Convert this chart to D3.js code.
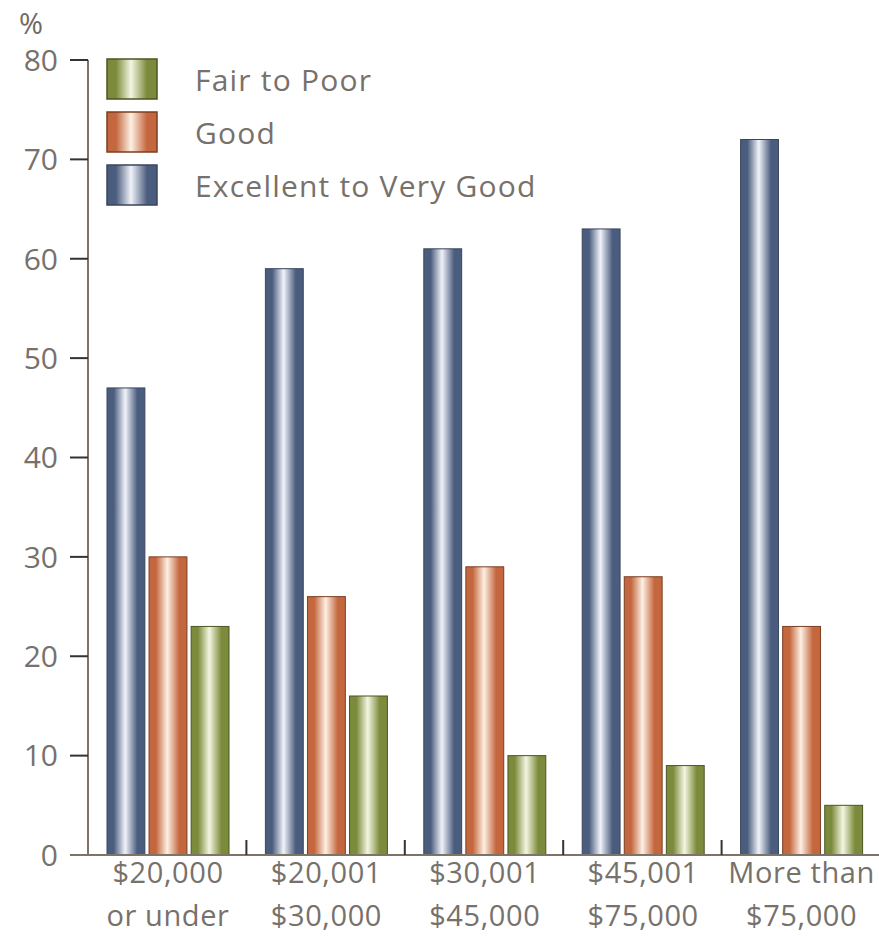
<!DOCTYPE html>
<html>
<head>
<meta charset="utf-8">
<script src="https://cdn.jsdelivr.net/npm/d3@7"></script>
<style>
  body { margin: 0; background: #fff; }
  svg text { font-family: "Open Sans", "Noto Sans", sans-serif; fill: #77716b; }
</style>
</head>
<body>
<svg id="chart" width="879" height="936"></svg>
<script>
// ---- data ----
var categories = [["$20,000", "or under"], ["$20,001", "$30,000"], ["$30,001", "$45,000"], ["$45,001", "$75,000"], ["More than", "$75,000"]]
var seriesNames = ["Excellent to Very Good", "Good", "Fair to Poor"]
var excellent = [47, 59, 61, 63, 72]
var good = [30, 26, 29, 28, 23]
var fair = [23, 16, 10, 9, 5]
var yTicks = [0, 10, 20, 30, 40, 50, 60, 70, 80]
var legendOrder = ["Fair to Poor", "Good", "Excellent to Very Good"]

var palette = {
    "Excellent to Very Good": {edge: "#4b5d7e", mid: "#f1f3fa", line: "#3a465c"},
    "Good": {edge: "#c4673e", mid: "#fdf0e4", line: "#7a3e22"},
    "Fair to Poor": {edge: "#7b8b3b", mid: "#f4f6e2", line: "#4b5524"}
}

var svg = d3.select("#chart")
var margin = {left: 88, right: 0, top: 60, bottom: 81}
var W = 879, H = 936

var x = d3.scaleBand().domain(d3.range(categories.length))
    .range([margin.left, 880]).paddingInner(0).paddingOuter(0)
var x1 = d3.scaleBand().domain(seriesNames).range([19, 19 + 122]).paddingInner(0.1)
var y = d3.scaleLinear().domain([0, 80]).range([H - margin.bottom, margin.top])

// gradients: cylinder look
var defs = svg.append("defs")
seriesNames.forEach(function(s, i){
    var g = defs.append("linearGradient").attr("id", "grad" + i)
        .attr("x1", "0%").attr("x2", "100%").attr("y1", "0%").attr("y2", "0%")
    var c = palette[s]
    g.append("stop").attr("offset", "0%").attr("stop-color", c.edge)
    g.append("stop").attr("offset", "18%").attr("stop-color", c.edge)
    g.append("stop").attr("offset", "48%").attr("stop-color", c.mid)
    g.append("stop").attr("offset", "80%").attr("stop-color", c.edge)
    g.append("stop").attr("offset", "100%").attr("stop-color", c.edge)
})

var data = categories.map(function(c, i){
    return [
        {s: "Excellent to Very Good", v: excellent[i]},
        {s: "Good", v: good[i]},
        {s: "Fair to Poor", v: fair[i]}
    ]
})

// bars
svg.append("g").selectAll("g")
    .data(data).enter().append("g")
    .attr("transform", function(d, i){ return "translate(" + x(i) + ",0)" })
    .selectAll("rect").data(function(d){ return d }).enter().append("rect")
    .attr("x", function(d){ return x1(d.s) })
    .attr("width", x1.bandwidth())
    .attr("y", function(d){ return y(d.v) })
    .attr("height", function(d){ return y(0) - y(d.v) })
    .attr("fill", function(d){ return "url(#grad" + seriesNames.indexOf(d.s) + ")" })
    .attr("stroke", function(d){ return palette[d.s].line })
    .attr("stroke-width", 1)

// y axis
var yAxis = svg.append("g")
yAxis.append("line")
    .attr("x1", margin.left).attr("x2", margin.left)
    .attr("y1", y(80)).attr("y2", y(0))
    .attr("stroke", "#7d7468").attr("stroke-width", 2)
yAxis.selectAll(".tick").data(yTicks).enter().append("line")
    .attr("x1", 70).attr("x2", margin.left)
    .attr("y1", function(d){ return y(d) }).attr("y2", function(d){ return y(d) })
    .attr("stroke", "#333").attr("stroke-width", 2)
yAxis.selectAll(".lbl").data(yTicks).enter().append("text")
    .attr("x", 58).attr("y", function(d){ return y(d) })
    .attr("dy", "0.36em")
    .attr("text-anchor", "end")
    .style("font-size", "30px")
    .text(function(d){ return d })
svg.append("text").attr("x", 19).attr("y", 34)
    .style("font-size", "29px").style("fill", "#6f6a66")
    .text("%")

// baseline and separators
svg.append("line")
    .attr("x1", 70).attr("x2", 879)
    .attr("y1", y(0)).attr("y2", y(0))
    .attr("stroke", "#7d7468").attr("stroke-width", 2)
svg.append("g").selectAll("line")
    .data(d3.range(1, categories.length)).enter().append("line")
    .attr("x1", function(i){ return x(i) }).attr("x2", function(i){ return x(i) })
    .attr("y1", y(0) - 15).attr("y2", y(0))
    .attr("stroke", "#333").attr("stroke-width", 2)

// x labels
var xl = svg.append("g").selectAll("text")
    .data(categories).enter().append("text")
    .attr("x", function(d, i){ return x(i) + 80 })
    .attr("text-anchor", "middle")
    .style("font-size", "29px")
    .style("letter-spacing", "0.6px")
xl.append("tspan").attr("y", 883).text(function(d){ return d[0] })
xl.append("tspan").attr("x", function(d, i){ return x(i) + 80 }).attr("y", 926).text(function(d){ return d[1] })

// legend
var lg = svg.append("g").selectAll("g")
    .data(legendOrder).enter().append("g")
    .attr("transform", function(d, i){ return "translate(107," + (59 + i * 53) + ")" })
lg.append("rect").attr("width", 50).attr("height", 40)
    .attr("fill", function(d){ return "url(#grad" + seriesNames.indexOf(d) + ")" })
    .attr("stroke", function(d){ return palette[d].line }).attr("stroke-width", 1.5)
lg.append("text").attr("x", 88).attr("y", 32)
    .style("font-size", "30px")
    .style("letter-spacing", "1.2px")
    .text(function(d){ return d })
</script>
</body>
</html>
